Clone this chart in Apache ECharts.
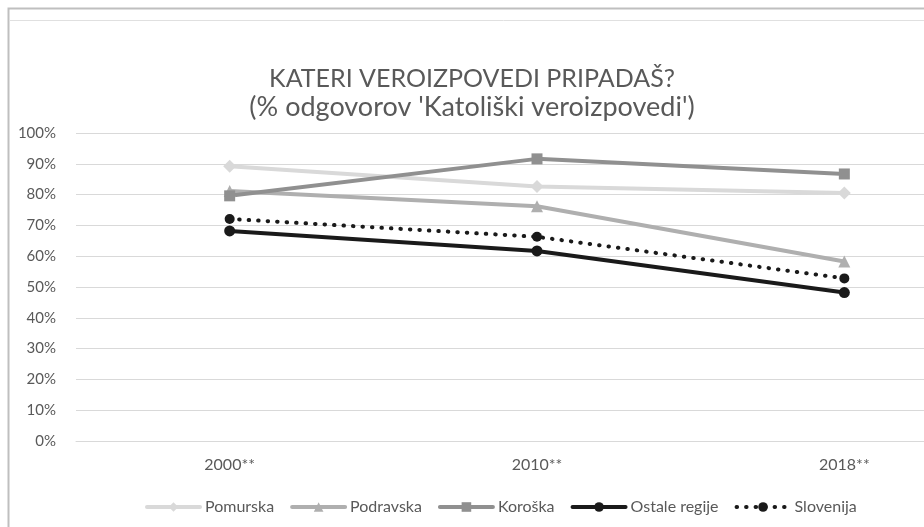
<!DOCTYPE html>
<html>
<head>
<meta charset="utf-8">
<script src="https://cdn.jsdelivr.net/npm/echarts@6/dist/echarts.min.js"></script>
<style>
  html, body { margin: 0; padding: 0; background: #fff; overflow: hidden; }
  /* the plot area runs past the right edge of the window, as in the reference */
  #chart { width: 998px; height: 527px; }
</style>
</head>
<body>
<div id="chart"></div>
<script>
// categories and values (share in %)
const years = ['2000**', '2010**', '2018**']
const pomurska = [89.2, 82.6, 80.5]
const podravska = [81.2, 76.2, 58.3]
const koroska = [79.6, 91.6, 86.7]
const ostale = [68.2, 61.7, 48.2]
const slovenija = [72.1, 66.3, 52.8]
const yTicks = [0, 10, 20, 30, 40, 50, 60, 70, 80, 90, 100]

const chart = echarts.init(document.getElementById('chart'))
const txt = '#595959'
const font = 'Lato, "Open Sans", sans-serif'

function serie(name, data, color, symbol, size, lineType) {
  return {
    name: name,
    type: 'line',
    data: data,
    symbol: symbol,
    symbolSize: size,
    lineStyle: { color: color, width: 4, type: lineType || 'solid', cap: 'round' },
    itemStyle: { color: color, borderWidth: 0 },
    emphasis: { disabled: true }
  }
}

const option = {
  animation: false,
  textStyle: { fontFamily: font },
  title: {
    text: '{a|KATERI VEROIZPOVEDI PRIPADAŠ?}\n{b|(% odgovorov \'Katoliški veroizpovedi\')}',
    left: 467,
    top: 60,
    textAlign: 'center',
    textStyle: {
      color: txt,
      fontWeight: 'normal',
      fontFamily: font,
      rich: {
        a: { fontSize: 25, lineHeight: 28, color: txt, fontFamily: font },
        b: { fontSize: 27, lineHeight: 28, color: txt, fontFamily: font }
      }
    }
  },
  graphic: [
    { type: 'rect', shape: { x: 8.5, y: 8.5, width: 1100, height: 600 }, style: { fill: 'none', stroke: '#bfbfbf', lineWidth: 2 } },
    { type: 'line', shape: { x1: 9, y1: 20.5, x2: 998, y2: 20.5 }, style: { stroke: '#e0e0e0', lineWidth: 1 } }
  ],
  legend: {
    left: 140,
    top: 494,
    itemWidth: 53,
    itemHeight: 12,
    itemGap: 16,
    lineStyle: { width: 4 },
    textStyle: { color: txt, fontSize: 16, fontFamily: font },
    data: ['Pomurska', 'Podravska', 'Koroška', 'Ostale regije', 'Slovenija']
  },
  grid: { left: 76, top: 133, right: 0, bottom: 86 },
  xAxis: {
    type: 'category',
    data: years,
    axisLine: { lineStyle: { color: '#d9d9d9', width: 1 } },
    axisTick: { show: false },
    axisLabel: { color: txt, fontSize: 16, margin: 16 }
  },
  yAxis: {
    type: 'value',
    min: yTicks[0],
    max: yTicks[yTicks.length - 1],
    interval: 10,
    axisLine: { show: false },
    axisTick: { show: false },
    splitLine: { lineStyle: { color: '#d9d9d9', width: 1 } },
    axisLabel: { color: txt, fontSize: 15, margin: 20, formatter: '{value}%' }
  },
  series: [
    serie('Pomurska', pomurska, '#d9d9d9', 'diamond', 13),
    serie('Podravska', podravska, '#afafaf', 'triangle', 12),
    serie('Koroška', koroska, '#909090', 'rect', 11),
    serie('Ostale regije', ostale, '#1a1a1a', 'circle', 11),
    serie('Slovenija', slovenija, '#1a1a1a', 'circle', 10, [0.5, 9])
  ]
}

chart.setOption(option)
</script>
</body>
</html>
